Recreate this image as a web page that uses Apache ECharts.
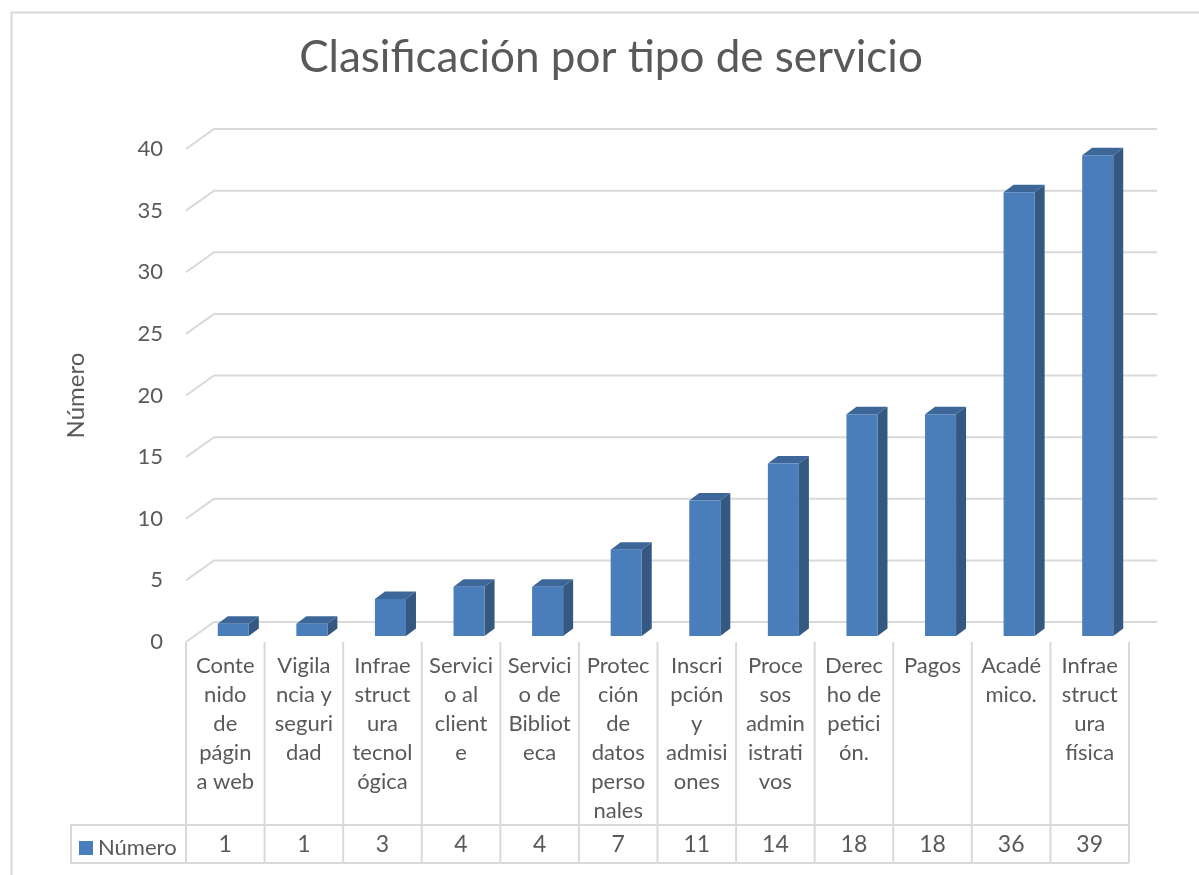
<!DOCTYPE html>
<html><head><meta charset="utf-8">
<script src="https://cdn.jsdelivr.net/npm/echarts@6/dist/echarts.min.js"></script>
<style>html,body{margin:0;padding:0;background:#fff}#c{width:1199px;height:875px}</style>
</head><body><div id="c"></div>
<script>
// ---- data ----
const titleText = 'Clasificación por tipo de servicio';
const seriesName = 'Número';
const categories = [
  'Conte\nnido\nde\npágin\na web',
  'Vigila\nncia y\nseguri\ndad',
  'Infrae\nstruct\nura\ntecnol\nógica',
  'Servici\no al\nclient\ne',
  'Servici\no de\nBibliot\neca',
  'Protec\nción\nde\ndatos\nperso\nnales',
  'Inscri\npción\ny\nadmisi\nones',
  'Proce\nsos\nadmin\nistrati\nvos',
  'Derec\nho de\npetici\nón.',
  'Pagos',
  'Acadé\nmico.',
  'Infrae\nstruct\nura\nfísica'
];
const values = [1, 1, 3, 4, 4, 7, 11, 14, 18, 18, 36, 39];
const yTicks = [0, 5, 10, 15, 20, 25, 30, 35, 40];

// ---- styling ----
const FONT = 'Lato, "Open Sans", sans-serif';
const TXT = '#595959';
const LINE = '#d9d9d9';
const DX = 28, DY = -20;        // wall depth
const BDX = 10, BDY = -7.5;     // bar depth
const BOFFX = 8, BOFFY = -6;    // bar offset from front plane
const TABLE_ROW_TOP = 183, TABLE_ROW_BOTTOM = 221, HEADER_W = 115;

function renderWall(params, api) {
  const v = api.value(1);
  const y = api.coord([0, v])[1];
  const cs = params.coordSys;
  const x0 = cs.x, x1 = cs.x + cs.width;
  return {
    type: 'polyline', silent: true,
    shape: { points: [[x0, y], [x0 + DX, y + DY], [x1 + DX, y + DY]] },
    style: { stroke: LINE, lineWidth: 2, fill: null }
  };
}

function renderBar(params, api) {
  const i = api.value(0), v = api.value(1);
  const base = api.coord([i, 0]);
  const top = api.coord([i, v]);
  const band = api.size([1, 0])[0];
  const w = band * 0.395;
  const cx = base[0] + BOFFX;
  const xl = cx - w / 2, xr = cx + w / 2;
  const yb = base[1] + BOFFY, yt = top[1] + BOFFY;
  const color = api.visual('color');
  const cl = base[0] - band / 2, cr = base[0] + band / 2;
  const gb = base[1];
  const children = [
    { type: 'polygon', shape: { points: [[xr, yb], [xr + BDX, yb + BDY], [xr + BDX, yt + BDY], [xr, yt]] }, style: { fill: '#34587f' } },
    { type: 'polygon', shape: { points: [[xl, yt], [xl + BDX, yt + BDY], [xr + BDX, yt + BDY], [xr, yt]] }, style: { fill: '#3d6798' } },
    { type: 'rect', shape: { x: xl, y: yt, width: w, height: yb - yt }, style: { fill: color } },
    // table cell
    { type: 'line', shape: { x1: cl, y1: gb, x2: cl, y2: gb + TABLE_ROW_BOTTOM }, style: { stroke: LINE, lineWidth: 2 } },
    { type: 'line', shape: { x1: cl, y1: gb + TABLE_ROW_TOP, x2: cr, y2: gb + TABLE_ROW_TOP }, style: { stroke: LINE, lineWidth: 2 } },
    { type: 'line', shape: { x1: cl, y1: gb + TABLE_ROW_BOTTOM, x2: cr, y2: gb + TABLE_ROW_BOTTOM }, style: { stroke: LINE, lineWidth: 2 } },
    { type: 'text', style: { x: base[0], y: gb + (TABLE_ROW_TOP + TABLE_ROW_BOTTOM) / 2 + 1, text: String(v), align: 'center', verticalAlign: 'middle', fill: TXT, font: '23px ' + FONT } }
  ];
  if (i === values.length - 1) {
    children.push({ type: 'line', shape: { x1: cr, y1: gb, x2: cr, y2: gb + TABLE_ROW_BOTTOM }, style: { stroke: LINE, lineWidth: 2 } });
  }
  if (i === 0) {
    children.push({ type: 'polyline', shape: { points: [[cl, gb + TABLE_ROW_TOP], [cl - HEADER_W, gb + TABLE_ROW_TOP], [cl - HEADER_W, gb + TABLE_ROW_BOTTOM], [cl, gb + TABLE_ROW_BOTTOM]] }, style: { stroke: LINE, lineWidth: 2, fill: null } });
  }
  return { type: 'group', children };
}

const chart = echarts.init(document.getElementById('c'), null, { renderer: 'canvas' });
chart.setOption({
  backgroundColor: '#fff',
  animation: false,
  title: {
    text: titleText, left: 606, textAlign: 'center', top: 31,
    textStyle: { fontFamily: FONT, fontSize: 44, fontWeight: 'normal', color: TXT }
  },
  legend: {
    data: [seriesName], left: 74, top: 832, icon: 'rect', itemWidth: 14, itemHeight: 14,
    selectedMode: false,
    textStyle: { fontFamily: FONT, fontSize: 22, color: TXT }
  },
  graphic: [{
    type: 'rect', left: 9, top: 10, silent: true, z: -1,
    shape: { width: 1300, height: 1000 },
    style: { fill: null, stroke: LINE, lineWidth: 2 }
  }],
  grid: { left: 186, top: 149, width: 943, height: 493 },
  xAxis: {
    type: 'category', data: categories,
    axisLine: { show: false }, axisTick: { show: false }, splitLine: { show: false },
    axisLabel: { interval: 0, color: TXT, fontFamily: FONT, fontSize: 22, lineHeight: 29, margin: 9 }
  },
  yAxis: {
    type: 'value', min: 0, max: 40, interval: 5,
    axisLine: { show: false }, axisTick: { show: false }, splitLine: { show: false },
    axisLabel: { color: TXT, fontFamily: FONT, fontSize: 22, margin: 23 },
    name: seriesName, nameLocation: 'middle', nameRotate: 90, nameGap: 98,
    nameTextStyle: { color: TXT, fontFamily: FONT, fontSize: 24 }
  },
  series: [
    {
      name: 'walls', type: 'custom', renderItem: renderWall, clip: false, silent: true, z: 1,
      data: yTicks.map(v => [0, v])
    },
    {
      name: seriesName, type: 'custom', renderItem: renderBar, clip: false, z: 2,
      itemStyle: { color: '#4a7ebb' },
      encode: { x: 0, y: 1 },
      data: values.map((v, i) => [i, v])
    }
  ]
});
</script>
</body></html>
